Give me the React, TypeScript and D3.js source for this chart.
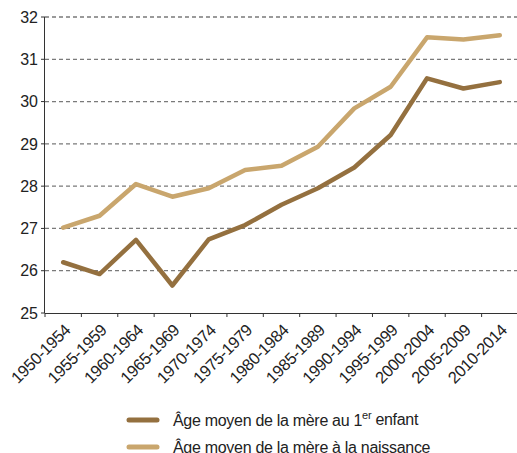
import React from "react";
import * as d3 from "d3";

// periods on the x axis
const periods = [
  "1950-1954", "1955-1959", "1960-1964", "1965-1969", "1970-1974",
  "1975-1979", "1980-1984", "1985-1989", "1990-1994", "1995-1999",
  "2000-2004", "2005-2009", "2010-2014",
];
// mean age of mother at first child
const firstChild = [26.2, 25.92, 26.73, 25.65, 26.74, 27.08, 27.56, 27.95, 28.44, 29.21, 30.55, 30.31, 30.46];
// mean age of mother at birth (all births)
const allBirths = [27.02, 27.3, 28.05, 27.75, 27.95, 28.38, 28.48, 28.93, 29.84, 30.35, 31.52, 31.47, 31.57];
const yTicks = [25, 26, 27, 28, 29, 30, 31, 32];

const W = 517;
const H = 453;
const font = "'Liberation Sans', Arial, sans-serif";

export default function App() {
  React.useEffect(() => {
    document.body.style.margin = "0";
  }, []);

  const margin = { top: 17, right: -1, bottom: 140, left: 45 };
  const x = d3.scaleBand().domain(periods).range([margin.left, W - margin.right]);
  const y = d3.scaleLinear().domain([25, 32]).range([H - margin.bottom, margin.top]);

  const line = d3
    .line<number>()
    .x((d, i) => x(periods[i])! + x.bandwidth() / 2)
    .y((d) => y(d));

  const series = [
    { name: "first", values: firstChild, color: "#94703f" },
    { name: "all", values: allBirths, color: "#c9a66d" },
  ];

  return (
    <svg width={W} height={H} style={{ display: "block" }} fontFamily={font}>
      {/* gridlines */}
      {yTicks.slice(1).map((t) => (
        <line
          key={t}
          x1={margin.left}
          x2={W}
          y1={y(t)}
          y2={y(t)}
          stroke="#7a7a7a"
          strokeWidth={1.3}
          strokeDasharray="4,3"
        />
      ))}
      {/* y axis */}
      <line x1={margin.left - 0.5} x2={margin.left - 0.5} y1={y(32)} y2={y(25)} stroke="#333" />
      {yTicks.map((t) => (
        <g key={t}>
          <line x1={margin.left - 4} x2={margin.left} y1={y(t)} y2={y(t)} stroke="#333" />
          <text x={margin.left - 7} y={y(t)} dy="0.36em" textAnchor="end" fontSize={16} fill="#222">
            {t}
          </text>
        </g>
      ))}
      {/* x axis */}
      <line x1={margin.left} x2={W} y1={y(25) + 0.5} y2={y(25) + 0.5} stroke="#333" />
      {periods.map((p) => (
        <g key={p}>
          <line x1={x(p)!} x2={x(p)!} y1={y(25)} y2={y(25) + 4} stroke="#333" />
          <text
            transform={`translate(${x(p)! + x.bandwidth() / 2},${y(25) + 10}) rotate(-45)`}
            textAnchor="end"
            dy="0.7em"
            fontSize={16.5}
            letterSpacing={-0.4}
            fill="#222"
          >
            {p}
          </text>
        </g>
      ))}
      {/* lines */}
      {series.map((s) => (
        <path
          key={s.name}
          d={line(s.values)!}
          fill="none"
          stroke={s.color}
          strokeWidth={4.5}
          strokeLinejoin="round"
          strokeLinecap="round"
        />
      ))}
      {/* legend */}
      <g fontSize={16} fill="#222" letterSpacing={-0.3}>
        <line x1={129} x2={157} y1={420} y2={420} stroke={series[0].color} strokeWidth={5} strokeLinecap="round" />
        <text x={173} y={420} dy="0.35em">
          Âge moyen de la mère au 1<tspan fontSize={11} dy="-0.6em">er</tspan>
          <tspan dy="0.4em"> enfant</tspan>
        </text>
        <line x1={129} x2={157} y1={447} y2={447} stroke={series[1].color} strokeWidth={5} strokeLinecap="round" />
        <text x={173} y={447} dy="0.35em">
          Âge moyen de la mère à la naissance
        </text>
      </g>
    </svg>
  );
}
